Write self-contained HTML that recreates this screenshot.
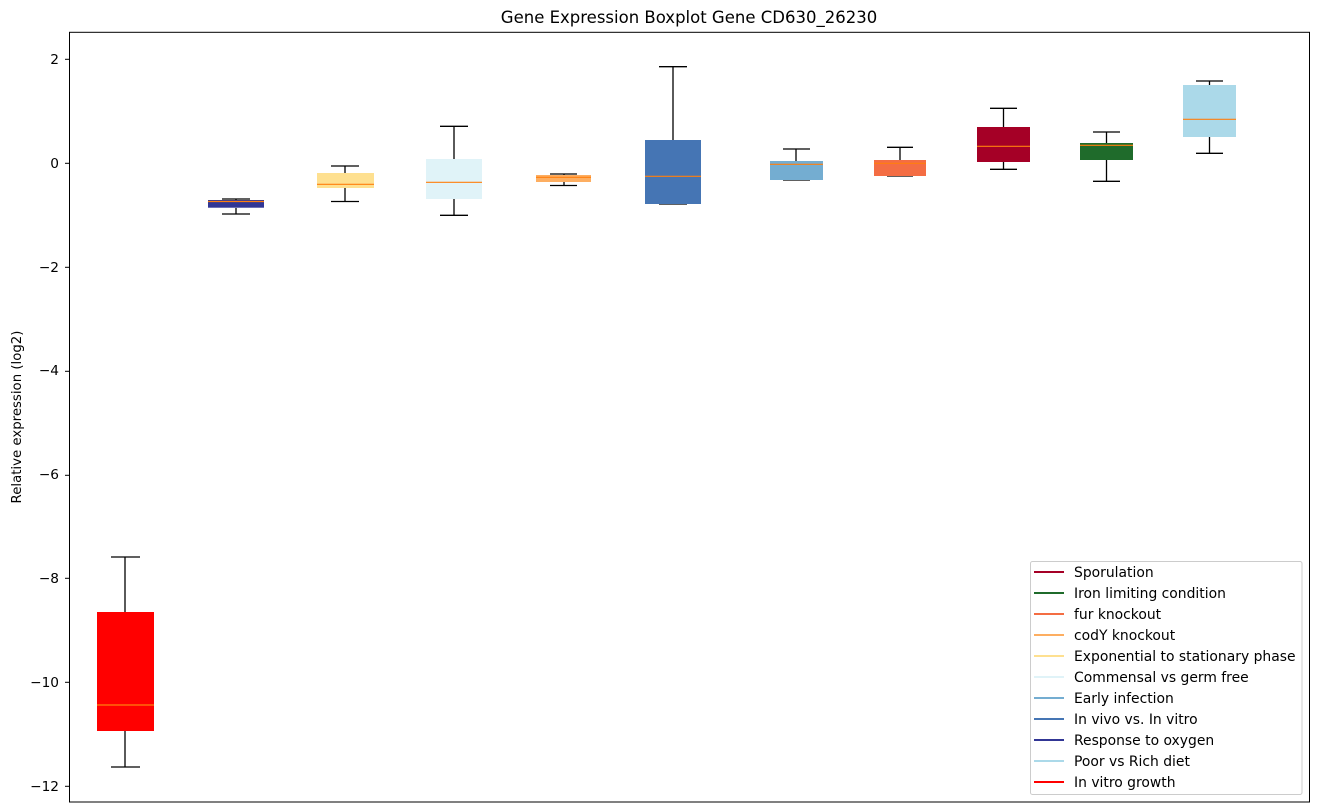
<!DOCTYPE html>
<html><head><meta charset="utf-8"><style>html,body{margin:0;padding:0;background:#fff}svg{display:block}text{font-family:"DejaVu Sans","Liberation Sans",sans-serif;fill:#000}</style></head>
<body>
<svg width="1318" height="812" viewBox="0 0 1318 812" xmlns="http://www.w3.org/2000/svg">
<text x="689" y="23" font-size="16.5" text-anchor="middle">Gene Expression Boxplot Gene CD630_26230</text>
<text transform="translate(21,417) rotate(-90)" font-size="13.3" text-anchor="middle">Relative expression (log2)</text>
<g font-size="13.7" text-anchor="end">
<text x="59" y="64">2</text>
<text x="59" y="168">0</text>
<text x="59" y="272">−2</text>
<text x="59" y="375">−4</text>
<text x="59" y="479">−6</text>
<text x="59" y="583">−8</text>
<text x="59" y="687">−10</text>
<text x="59" y="791">−12</text>
</g>
<g stroke="#000" stroke-width="1">
<line x1="65" y1="59.3" x2="69.5" y2="59.3"/><line x1="65" y1="163.3" x2="69.5" y2="163.3"/><line x1="65" y1="267.3" x2="69.5" y2="267.3"/><line x1="65" y1="371.3" x2="69.5" y2="371.3"/><line x1="65" y1="475.3" x2="69.5" y2="475.3"/><line x1="65" y1="578.3" x2="69.5" y2="578.3"/><line x1="65" y1="682.3" x2="69.5" y2="682.3"/><line x1="65" y1="786.3" x2="69.5" y2="786.3"/>
</g>
<g stroke="#000" stroke-width="1.3">
<line x1="125" y1="557" x2="125" y2="612"/><line x1="125" y1="731" x2="125" y2="767"/><line x1="111" y1="557" x2="140" y2="557"/><line x1="111" y1="767" x2="140" y2="767"/>
<line x1="236" y1="199" x2="236" y2="200"/><line x1="236" y1="208" x2="236" y2="214"/><line x1="222" y1="199" x2="250" y2="199"/><line x1="222" y1="214" x2="250" y2="214"/>
<line x1="345" y1="166" x2="345" y2="173"/><line x1="345" y1="188" x2="345" y2="201.5"/><line x1="331" y1="166" x2="359" y2="166"/><line x1="331" y1="201.5" x2="359" y2="201.5"/>
<line x1="454" y1="126.3" x2="454" y2="159"/><line x1="454" y1="199" x2="454" y2="215.3"/><line x1="440" y1="126.3" x2="468" y2="126.3"/><line x1="440" y1="215.3" x2="468" y2="215.3"/>
<line x1="564" y1="174" x2="564" y2="175"/><line x1="564" y1="182" x2="564" y2="185.5"/><line x1="550" y1="174" x2="577" y2="174"/><line x1="550" y1="185.5" x2="577" y2="185.5"/>
<line x1="673" y1="66.7" x2="673" y2="140"/><line x1="659" y1="66.7" x2="687" y2="66.7"/><line x1="659" y1="204" x2="687" y2="204"/>
<line x1="796" y1="149" x2="796" y2="161"/><line x1="783" y1="149" x2="810" y2="149"/><line x1="783" y1="180" x2="810" y2="180"/>
<line x1="900" y1="147.3" x2="900" y2="160"/><line x1="887" y1="147.3" x2="913" y2="147.3"/><line x1="887" y1="176" x2="913" y2="176"/>
<line x1="1003.5" y1="108.3" x2="1003.5" y2="127"/><line x1="1003.5" y1="162" x2="1003.5" y2="169.3"/><line x1="990" y1="108.3" x2="1017" y2="108.3"/><line x1="990" y1="169.3" x2="1017" y2="169.3"/>
<line x1="1106.5" y1="132" x2="1106.5" y2="143"/><line x1="1106.5" y1="160" x2="1106.5" y2="181.3"/><line x1="1093" y1="132" x2="1120" y2="132"/><line x1="1093" y1="181.3" x2="1120" y2="181.3"/>
<line x1="1209.5" y1="81" x2="1209.5" y2="85"/><line x1="1209.5" y1="137" x2="1209.5" y2="153.3"/><line x1="1196" y1="81" x2="1223" y2="81"/><line x1="1196" y1="153.3" x2="1223" y2="153.3"/>
</g>
<g>
<rect x="97" y="612" width="57" height="119" fill="#ff0000"/>
<rect x="208" y="200" width="56" height="7.7" fill="#313695"/>
<rect x="317" y="173" width="57" height="15" fill="#fee090"/>
<rect x="426" y="159" width="56" height="40" fill="#e0f3f8"/>
<rect x="536" y="175" width="55" height="7" fill="#fdae61"/>
<rect x="645" y="140" width="56" height="64" fill="#4575b4"/>
<rect x="770" y="161" width="53" height="19" fill="#74add1"/>
<rect x="874" y="160" width="52" height="16" fill="#f46d43"/>
<rect x="977" y="127" width="53" height="35" fill="#a50026"/>
<rect x="1080" y="143" width="53" height="17" fill="#1f6b2b"/>
<rect x="1183" y="85" width="53" height="52" fill="#abd9e9"/>
</g>
<g stroke="#ff7f0e" stroke-width="1.2">
<line x1="97" y1="705" x2="154" y2="705"/>
<line x1="208" y1="201.5" x2="264" y2="201.5"/>
<line x1="317" y1="184.3" x2="374" y2="184.3"/>
<line x1="426" y1="182.3" x2="482" y2="182.3"/>
<line x1="536" y1="177.3" x2="591" y2="177.3"/>
<line x1="645" y1="176.3" x2="701" y2="176.3"/>
<line x1="770" y1="164.3" x2="823" y2="164.3"/>
<line x1="874" y1="163.3" x2="926" y2="163.3"/>
<line x1="977" y1="146.3" x2="1030" y2="146.3"/>
<line x1="1080" y1="145.3" x2="1133" y2="145.3"/>
<line x1="1183" y1="119.3" x2="1236" y2="119.3"/>
</g>
<rect x="69.5" y="32.3" width="1240" height="769.7" fill="none" stroke="#000" stroke-width="1"/>
<rect x="1030.5" y="561.5" width="271.5" height="233" rx="2" fill="#fff" stroke="#ccc" stroke-width="1"/>
<g stroke-width="2">
<line x1="1034" y1="572" x2="1064" y2="572" stroke="#a50026"/>
<line x1="1034" y1="593" x2="1064" y2="593" stroke="#1f6b2b"/>
<line x1="1034" y1="614" x2="1064" y2="614" stroke="#f46d43"/>
<line x1="1034" y1="635" x2="1064" y2="635" stroke="#fdae61"/>
<line x1="1034" y1="656" x2="1064" y2="656" stroke="#fee090"/>
<line x1="1034" y1="677" x2="1064" y2="677" stroke="#e0f3f8"/>
<line x1="1034" y1="698" x2="1064" y2="698" stroke="#74add1"/>
<line x1="1034" y1="719" x2="1064" y2="719" stroke="#4575b4"/>
<line x1="1034" y1="740" x2="1064" y2="740" stroke="#313695"/>
<line x1="1034" y1="761" x2="1064" y2="761" stroke="#abd9e9"/>
<line x1="1034" y1="782" x2="1064" y2="782" stroke="#ff0000"/>
</g>
<g font-size="13.9">
<text x="1074" y="577">Sporulation</text>
<text x="1074" y="598">Iron limiting condition</text>
<text x="1074" y="619">fur knockout</text>
<text x="1074" y="640">codY knockout</text>
<text x="1074" y="661">Exponential to stationary phase</text>
<text x="1074" y="682">Commensal vs germ free</text>
<text x="1074" y="703">Early infection</text>
<text x="1074" y="724">In vivo vs. In vitro</text>
<text x="1074" y="745">Response to oxygen</text>
<text x="1074" y="766">Poor vs Rich diet</text>
<text x="1074" y="787">In vitro growth</text>
</g>
</svg>
</body></html>
